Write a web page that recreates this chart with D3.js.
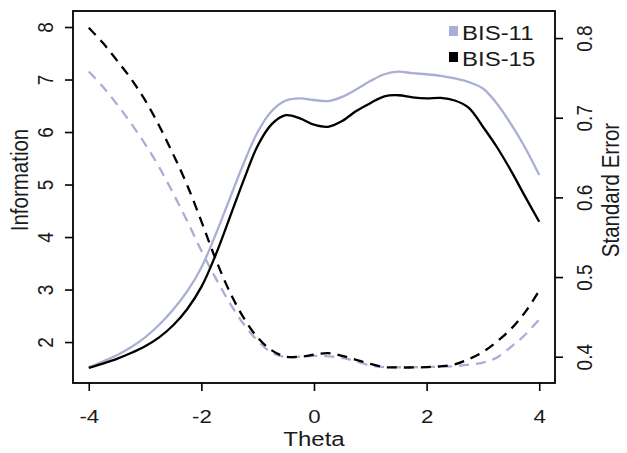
<!DOCTYPE html>
<html>
<head>
<meta charset="utf-8">
<script src="https://cdn.jsdelivr.net/npm/d3@7"></script>
<style>
  body { margin: 0; background: #fff; }
  text { font-family: "Liberation Sans", Arial, sans-serif; fill: #1a1a1a; }
</style>
</head>
<body>
<div id="chart"></div>
<script>
// theta grid, step 0.25
var theta = [-4, -3.75, -3.5, -3.25, -3, -2.75, -2.5, -2.25, -2, -1.75, -1.5, -1.25, -1, -0.75, -0.5, -0.25,
             0, 0.25, 0.5, 0.75, 1, 1.25, 1.5, 1.75, 2, 2.25, 2.5, 2.75, 3, 3.25, 3.5, 3.75, 4];

// test information (left axis)
var info11 = [1.52, 1.63, 1.75, 1.90, 2.09, 2.33, 2.62, 2.97, 3.42, 4.04, 4.72, 5.40, 6.00, 6.40, 6.60, 6.64,
              6.61, 6.59, 6.67, 6.81, 6.97, 7.10, 7.15, 7.12, 7.10, 7.07, 7.02, 6.95, 6.83, 6.54, 6.15, 5.70, 5.18];
var info15 = [1.51, 1.59, 1.68, 1.79, 1.92, 2.09, 2.32, 2.63, 3.05, 3.65, 4.36, 5.08, 5.74, 6.15, 6.32, 6.26,
              6.14, 6.10, 6.21, 6.40, 6.55, 6.68, 6.70, 6.66, 6.64, 6.65, 6.60, 6.46, 6.10, 5.71, 5.26, 4.77, 4.29];

// standard error (right axis)
var se11 = [0.758, 0.739, 0.717, 0.693, 0.667, 0.638, 0.605, 0.570, 0.533, 0.499, 0.468, 0.441, 0.420, 0.405, 0.3995, 0.400,
            0.401, 0.4005, 0.3987, 0.394, 0.389, 0.387, 0.3868, 0.3868, 0.387, 0.3875, 0.388, 0.390, 0.3925, 0.399, 0.4125, 0.4276, 0.447];
var se15 = [0.813, 0.794, 0.772, 0.749, 0.722, 0.690, 0.654, 0.615, 0.570, 0.523, 0.482, 0.449, 0.424, 0.408, 0.400, 0.400,
            0.4025, 0.4045, 0.401, 0.396, 0.391, 0.387, 0.3865, 0.3865, 0.387, 0.388, 0.3905, 0.397, 0.406, 0.419, 0.435, 0.456, 0.483];

var xTicks = [-4, -2, 0, 2, 4];
var infoTicks = [2, 3, 4, 5, 6, 7, 8];
var seTicks = [0.4, 0.5, 0.6, 0.7, 0.8];
var legendNames = ["BIS-11", "BIS-15"];

var lav = "#a9afd4", blk = "#000";
var SX = 1.17; // picture is stretched a bit sideways

var W = 627, H = 453;
var box = {left: 73, right: 555, top: 11, bottom: 383};

var svg = d3.select("#chart").append("svg")
    .attr("width", W).attr("height", H);

var x = d3.scaleLinear().domain([-4.28, 4.28]).range([box.left, box.right]);
var yL = d3.scaleLinear().domain([1.22, 8.305]).range([box.bottom, box.top]);
var yR = d3.scaleLinear().domain([0.367, 0.834]).range([box.bottom, box.top]);

function rows(vals) { return theta.map(function(t, i) { return [t, vals[i]]; }); }

var lineL = d3.line().x(d => x(d[0])).y(d => yL(d[1])).curve(d3.curveCatmullRom.alpha(0.5));
var lineR = d3.line().x(d => x(d[0])).y(d => yR(d[1])).curve(d3.curveCatmullRom.alpha(0.5));

// dashed SE curves first, info curves on top
svg.append("path").attr("d", lineR(rows(se11)))
  .attr("fill", "none").attr("stroke", lav).attr("stroke-width", 2.3).attr("stroke-dasharray", "10,7");
svg.append("path").attr("d", lineR(rows(se15)))
  .attr("fill", "none").attr("stroke", blk).attr("stroke-width", 2.3).attr("stroke-dasharray", "10,7");
svg.append("path").attr("d", lineL(rows(info11)))
  .attr("fill", "none").attr("stroke", lav).attr("stroke-width", 2.3);
svg.append("path").attr("d", lineL(rows(info15)))
  .attr("fill", "none").attr("stroke", blk).attr("stroke-width", 2.3);

// box
svg.append("rect")
  .attr("x", box.left).attr("y", box.top)
  .attr("width", box.right - box.left).attr("height", box.bottom - box.top)
  .attr("fill", "none").attr("stroke", "#000").attr("stroke-width", 1.8);

// bottom axis
var gx = svg.append("g").attr("transform", "translate(0," + box.bottom + ")")
  .call(d3.axisBottom(x).tickValues(xTicks).tickSize(8).tickFormat(d => String(d)));
gx.select(".domain").remove();
gx.selectAll("line").attr("stroke-width", 1.6);
gx.selectAll("text")
  .attr("y", null).attr("dy", null)
  .attr("transform", "translate(0,40) scale(" + SX + ",1)")
  .attr("font-size", 19).attr("fill", "#1a1a1a");

// left axis
var gl = svg.append("g").attr("transform", "translate(" + box.left + ",0)")
  .call(d3.axisLeft(yL).tickValues(infoTicks).tickSize(8).tickFormat(d => String(d)));
gl.select(".domain").remove();
gl.selectAll("line").attr("stroke-width", 1.6);
gl.selectAll("text")
  .attr("x", null).attr("dy", null).attr("text-anchor", "middle")
  .attr("transform", "translate(-20,0) scale(" + SX + ",1) rotate(-90)")
  .attr("font-size", 19).attr("fill", "#1a1a1a");

// right axis
var gr = svg.append("g").attr("transform", "translate(" + box.right + ",0)")
  .call(d3.axisRight(yR).tickValues(seTicks).tickSize(8).tickFormat(d3.format(".1f")));
gr.select(".domain").remove();
gr.selectAll("line").attr("stroke-width", 1.6);
gr.selectAll("text")
  .attr("x", null).attr("dy", null).attr("text-anchor", "middle")
  .attr("transform", "translate(37,0) scale(" + SX + ",1) rotate(-90)")
  .attr("font-size", 19).attr("fill", "#1a1a1a");

// axis titles
svg.append("text").attr("text-anchor", "middle").attr("font-size", 20.5)
  .attr("transform", "translate(314,446) scale(" + SX + ",1)").text("Theta");
svg.append("text").attr("text-anchor", "middle").attr("font-size", 20.5)
  .attr("transform", "translate(28,180) scale(" + SX + ",1) rotate(-90)").text("Information");
svg.append("text").attr("text-anchor", "middle").attr("font-size", 20.5)
  .attr("transform", "translate(619,190) scale(" + SX + ",1) rotate(-90)").text("Standard Error");

// legend
var leg = svg.append("g");
legendNames.forEach(function(name, i) {
  var yb = 40 + i * 26;
  leg.append("rect").attr("x", 449).attr("y", yb - 14).attr("width", 9).attr("height", 10)
    .attr("fill", i === 0 ? lav : blk);
  leg.append("text").attr("font-size", 20.5)
    .attr("transform", "translate(462," + yb + ") scale(" + SX + ",1)").text(name);
});
</script>
</body>
</html>
